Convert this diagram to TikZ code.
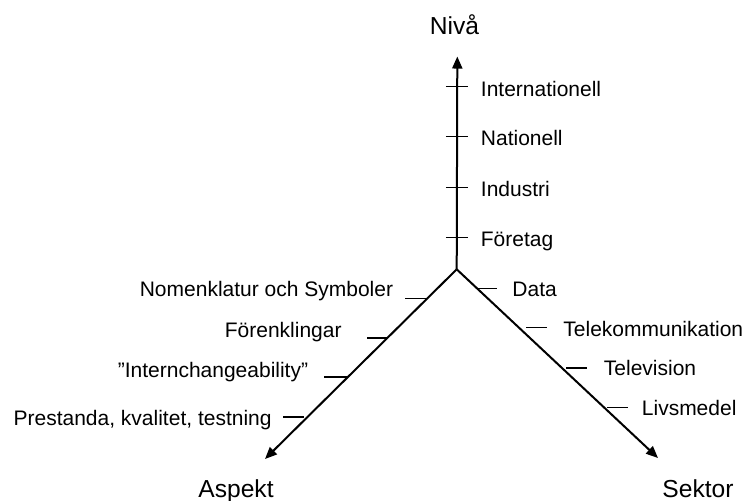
\documentclass[tikz,border=0pt]{standalone}
\usepackage{fontspec}
\setmainfont{Liberation Sans}
\usetikzlibrary{arrows.meta}
\begin{document}
\begin{tikzpicture}[x=0.5pt,y=-0.5pt,
  axis/.style={line width=1pt,-{Triangle[length=6pt,width=5pt]}},
  tickmark/.style={line width=0.65pt},
  lbl/.style={inner sep=0pt,font=\fontsize{10.5}{12}\selectfont},
  ttl/.style={inner sep=0pt,anchor=base,font=\fontsize{12.3}{14}\selectfont},
  lw/.style={lbl,anchor=base west},
  le/.style={lbl,anchor=base east}]
\useasboundingbox (0,0) rectangle (747,500);
% axes
\coordinate (O) at (456.7,269.3);
\coordinate (up) at (457.3,56.5);
\coordinate (sw) at (265,459);
\coordinate (se) at (658,458);
\draw[axis] (O) -- (up);
\draw[axis] (O) -- (sw);
\draw[axis] (O) -- (se);
% vertical ticks
\foreach \n/\y in {a/86.7,b/136.7,c/187.3,d/237.3}{
  \coordinate (v\n) at (457.3,\y);
  \draw[tickmark] (v\n) ++(-11.5,0) -- ++(22,0);
}
% left ticks
\coordinate (l1) at (427,298.3);
\coordinate (l2) at (387.5,338);
\coordinate (l3) at (348,377);
\coordinate (l4) at (303.5,417);
\draw[tickmark] (l1) -- ++(-22,0);
\draw[tickmark] (l2) -- ++(-21,0);
\draw[tickmark] (l3) -- ++(-24,0);
\draw[tickmark] (l4) -- ++(-21,0);
% right ticks
\coordinate (r1) at (478,288.3);
\coordinate (r2) at (526,327.5);
\coordinate (r3) at (566,368);
\coordinate (r4) at (607,407.5);
\draw[tickmark] (r1) -- ++(19,0);
\draw[tickmark] (r2) -- ++(21,0);
\draw[tickmark] (r3) -- ++(21,0);
\draw[tickmark] (r4) -- ++(21,0);
% axis titles
\node[ttl] (niva) at (454.5,34) {Nivå};
\node[ttl] (aspekt) at (236,497) {Aspekt};
\node[ttl] (sektor) at (698,497) {Sektor};
% level labels
\node[lw] (int) at (480.5,96.3) {Internationell};
\node[lw] (nat) at (480.5,145.5) {Nationell};
\node[lw] (ind) at (480.5,196.3) {Industri};
\node[lw] (for) at (480.5,246.5) {Företag};
% aspect labels
\node[le] (nom) at (393.5,296) {Nomenklatur och Symboler};
\node[le] (fen) at (342,337) {Förenklingar};
\node[le] (ich) at (308.5,377.5) {”Internchangeability”};
\node[le] (pre) at (272,425) {Prestanda, kvalitet, testning};
% sector labels
\node[lw] (dat) at (512,296) {Data};
\node[lw] (tel) at (563,336) {Telekommunikation};
\node[lw] (tv) at (603.5,375.5) {Television};
\node[lw] (liv) at (641.5,415) {Livsmedel};
\end{tikzpicture}
\end{document}
